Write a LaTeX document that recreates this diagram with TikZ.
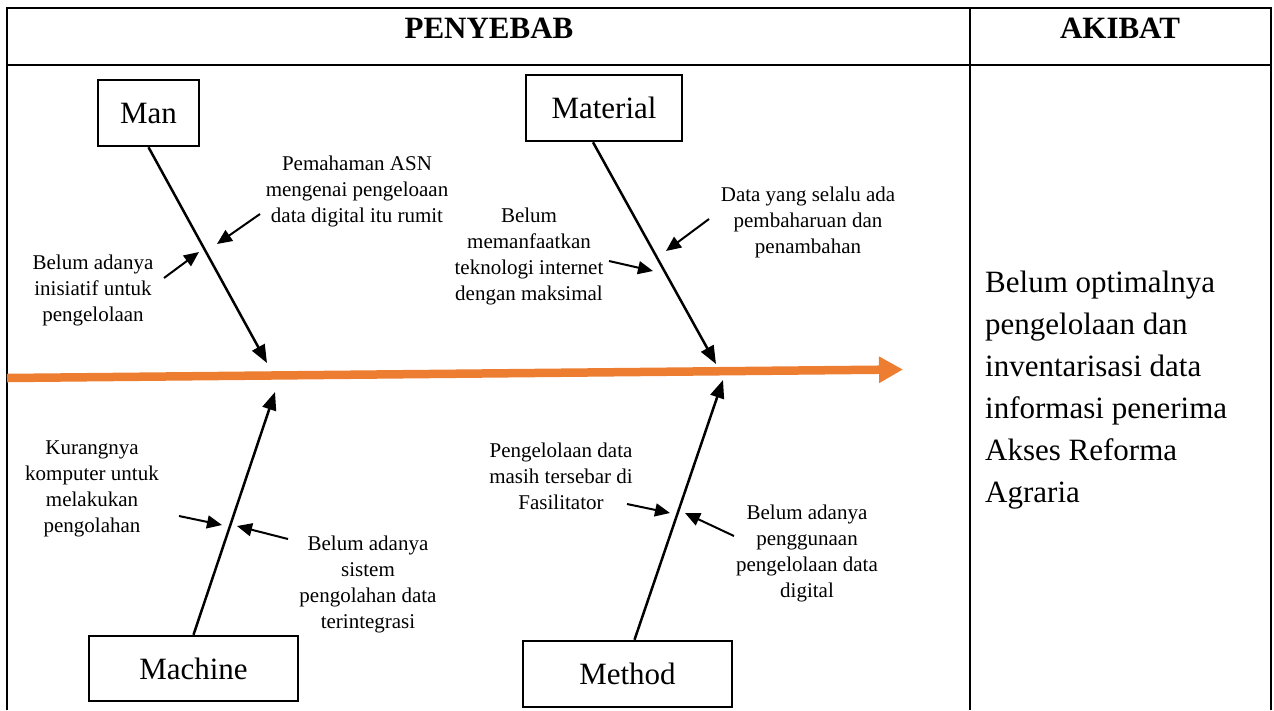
\documentclass[tikz,border=0pt]{standalone}
\usepackage{fontspec}
\setmainfont{Liberation Serif}
\usetikzlibrary{arrows.meta}
\definecolor{spine}{HTML}{ED7D31}
\begin{document}
\begin{tikzpicture}[x=1pt,y=-1pt,
  catbox/.style={draw,line width=2.5pt,font=\fontsize{31}{36}\selectfont,inner sep=0pt},
  lbl/.style={align=center,font=\fontsize{21}{26}\selectfont,inner sep=0pt},
  head/.style={font=\bfseries\fontsize{31}{36}\selectfont,anchor=base,inner sep=0pt},
  bone/.style={line width=2.5pt,-{Triangle[length=18pt,width=14pt]}},
  subarrow/.style={line width=2pt,-{Triangle[length=15pt,width=13pt]}},
  frameline/.style={line width=2pt}]
\useasboundingbox (0,0) rectangle (1274,710);

% table frame
\draw[frameline] (7,710) -- (7,8) -- (1271,8) -- (1271,710);
\draw[frameline] (7,65) -- (1271,65);
\draw[frameline] (970,8) -- (970,710);

\node[head] (hpenyebab) at (489,38) {PENYEBAB};
\node[head] (hakibat) at (1120,38) {AKIBAT};

% category boxes
\node[catbox,minimum width=101pt,minimum height=66pt] (man) at (148.5,113) {Man};
\node[catbox,minimum width=156pt,minimum height=66pt] (material) at (604,108) {Material};
\node[catbox,minimum width=209pt,minimum height=65pt] (machine) at (193.5,668.5) {Machine};
\node[catbox,minimum width=209pt,minimum height=66pt] (method) at (627.5,674) {Method};

% spine
\coordinate (s0) at (7,378);
\coordinate (s1) at (903,369.5);
\draw[line width=8.5pt,spine,-{Triangle[length=24pt,width=25pt]}] (s0) -- (s1);

% bones
\coordinate (tman) at (267,363);
\coordinate (tmat) at (716,364);
\coordinate (tmac) at (275,392);
\coordinate (tmet) at (723,380);
\draw[bone] (man.south) -- (tman);
\draw[bone] ([xshift=-11pt]material.south) -- (tmat);
\draw[bone] (machine.north) -- (tmac);
\draw[bone] ([xshift=7pt]method.north) -- (tmet);

% labels
\node[lbl] (l1) at (357,191) {Pemahaman ASN\\mengenai pengeloaan\\data digital itu rumit};
\node[lbl] (l2) at (93,290) {Belum adanya\\inisiatif untuk\\pengelolaan};
\node[lbl] (l3) at (529,256) {Belum\\memanfaatkan\\teknologi internet\\dengan maksimal};
\node[lbl] (l4) at (808,222) {Data yang selalu ada\\pembaharuan dan\\penambahan};
\node[lbl] (l5) at (92,489) {Kurangnya\\komputer untuk\\melakukan\\pengolahan};
\node[lbl] (l6) at (368,584) {Belum adanya\\sistem\\pengolahan data\\terintegrasi};
\node[lbl] (l7) at (561,476) {Pengelolaan data\\masih tersebar di\\Fasilitator};
\node[lbl] (l8) at (807,553) {Belum adanya\\penggunaan\\pengelolaan data\\digital};

% sub arrows
\coordinate (a1s) at (260,214); \coordinate (a1e) at (217,244);
\coordinate (a2s) at (164,278); \coordinate (a2e) at (199,252);
\coordinate (a3s) at (709,219); \coordinate (a3e) at (666,251);
\coordinate (a4s) at (609,261); \coordinate (a4e) at (653,271);
\coordinate (a5s) at (179,516); \coordinate (a5e) at (222,525);
\coordinate (a6s) at (288,539); \coordinate (a6e) at (237,526);
\coordinate (a7s) at (627,504); \coordinate (a7e) at (670,513);
\coordinate (a8s) at (734,536); \coordinate (a8e) at (685,513);
\foreach \i in {1,...,8} {\draw[subarrow] (a\i s) -- (a\i e);}

% effect
\node[anchor=west,align=left,font=\fontsize{31}{42}\selectfont,inner sep=0pt] (akibat) at (985,390)
  {Belum optimalnya\\pengelolaan dan\\inventarisasi data\\informasi penerima\\Akses Reforma\\Agraria};
\end{tikzpicture}
\end{document}
